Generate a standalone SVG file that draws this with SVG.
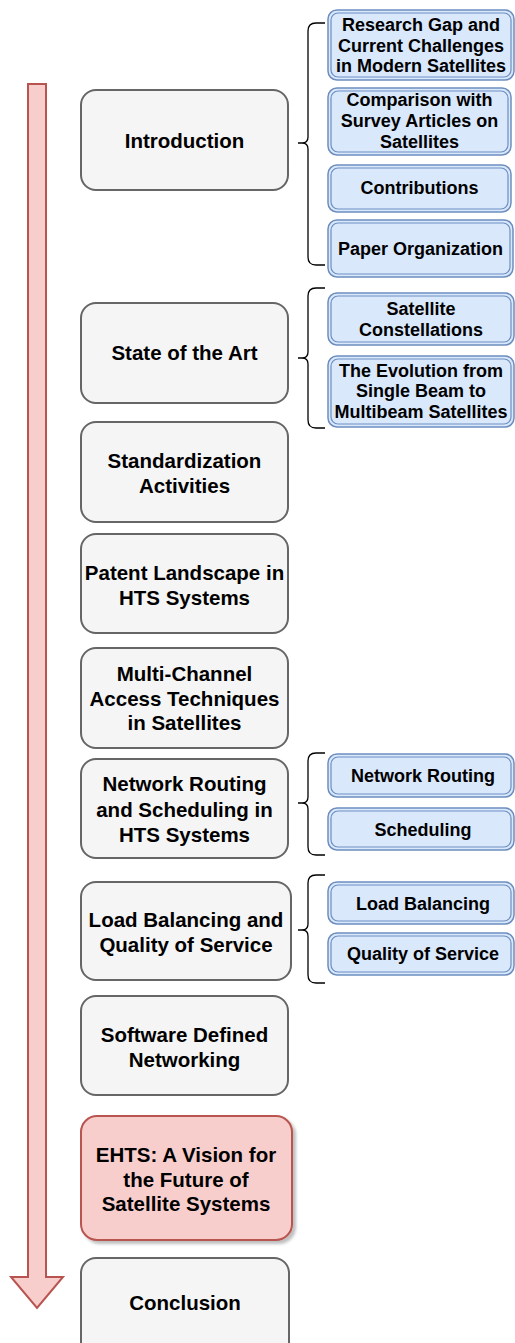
<svg xmlns="http://www.w3.org/2000/svg" width="515" height="1343" viewBox="0 0 515 1343">
<style>
.g{fill:#f5f5f5;stroke:#666666;stroke-width:2}
.r{fill:#f8cecc;stroke:#b85450;stroke-width:2}
.b{fill:#dae8fc;stroke:#6c8ebf;stroke-width:1.5}
.bi{fill:none;stroke:#6c8ebf;stroke-width:1.2}
.br{fill:none;stroke:#000;stroke-width:1.3}
text{font-family:"Liberation Sans",Arial,sans-serif;font-weight:bold;fill:#000;text-anchor:middle}
.L{font-size:20.5px}
.S{font-size:18px}
</style>
<defs>
<filter id="sh" x="-10%" y="-10%" width="130%" height="130%">
<feDropShadow dx="3" dy="3" stdDeviation="1.5" flood-color="#000" flood-opacity="0.25"/>
</filter>
</defs>
<rect width="515" height="1343" fill="#ffffff"/>
<g id="timeline-arrow">
<polygon class="r" points="28,84 46,84 46,1277 63,1277 37,1308 11,1277 28,1277"/>
</g>
<g id="connectors">
<path class="br" d="M325,23 H316 Q308,23 308,31 V137 Q308,143 302,143 H298 M302,143 Q308,143 308,149 V257 Q308,265 316,265 H325"/>
<path class="br" d="M325,288 H316 Q308,288 308,296 V352 Q308,358 302,358 H298 M302,358 Q308,358 308,364 V420 Q308,428 316,428 H325"/>
<path class="br" d="M325,753 H316 Q308,753 308,761 V797 Q308,803 302,803 H298 M302,803 Q308,803 308,809 V847 Q308,855 316,855 H325"/>
<path class="br" d="M325,875 H316 Q308,875 308,883 V924 Q308,930 302,930 H298 M302,930 Q308,930 308,936 V975 Q308,983 316,983 H325"/>
</g>
<g id="introduction">
<rect class="g" x="81" y="90" width="207" height="100" rx="15"/>
<text class="L" x="184.5" y="148">Introduction</text>
</g>
<g id="state-of-the-art">
<rect class="g" x="81" y="303" width="207" height="100" rx="15"/>
<text class="L" x="184.5" y="360">State of the Art</text>
</g>
<g id="standardization">
<rect class="g" x="81" y="422" width="207" height="100" rx="15"/>
<text class="L" x="184.5" y="468">Standardization</text>
<text class="L" x="184.5" y="493">Activities</text>
</g>
<g id="patent">
<rect class="g" x="81" y="534" width="207" height="99" rx="15"/>
<text class="L" x="184.5" y="580">Patent Landscape in</text>
<text class="L" x="184.5" y="605">HTS Systems</text>
</g>
<g id="multichannel">
<rect class="g" x="81" y="648" width="207" height="100" rx="15"/>
<text class="L" x="184.5" y="681">Multi-Channel</text>
<text class="L" x="184.5" y="706">Access Techniques</text>
<text class="L" x="184.5" y="730">in Satellites</text>
</g>
<g id="routing-scheduling">
<rect class="g" x="81" y="759" width="207" height="99" rx="15"/>
<text class="L" x="184.5" y="791">Network Routing</text>
<text class="L" x="184.5" y="817">and Scheduling in</text>
<text class="L" x="184.5" y="842">HTS Systems</text>
</g>
<g id="loadbalancing-qos">
<rect class="g" x="81" y="882" width="210" height="98" rx="15"/>
<text class="L" x="186" y="927">Load Balancing and</text>
<text class="L" x="186" y="952">Quality of Service</text>
</g>
<g id="sdn">
<rect class="g" x="81" y="996" width="207" height="99" rx="15"/>
<text class="L" x="184.5" y="1042">Software Defined</text>
<text class="L" x="184.5" y="1067">Networking</text>
</g>
<g id="ehts">
<rect class="r" x="81" y="1116" width="211" height="124" rx="16" filter="url(#sh)"/>
<text class="L" x="186" y="1162">EHTS: A Vision for</text>
<text class="L" x="186" y="1187">the Future of</text>
<text class="L" x="186" y="1211">Satellite Systems</text>
</g>
<g id="conclusion">
<rect class="g" x="81" y="1258" width="208" height="100" rx="15"/>
<text class="L" x="185" y="1310">Conclusion</text>
</g>
<g id="research-gap">
<rect class="b" x="328" y="10" width="186" height="70" rx="9"/>
<rect class="bi" x="331" y="13" width="180" height="64" rx="7"/>
<text class="S" x="421" y="31">Research Gap and</text>
<text class="S" x="421" y="52">Current Challenges</text>
<text class="S" x="421" y="72">in Modern Satellites</text>
</g>
<g id="comparison">
<rect class="b" x="328" y="88" width="183" height="67" rx="9"/>
<rect class="bi" x="331" y="91" width="177" height="61" rx="7"/>
<text class="S" x="419.5" y="106">Comparison with</text>
<text class="S" x="419.5" y="127">Survey Articles on</text>
<text class="S" x="419.5" y="148">Satellites</text>
</g>
<g id="contributions">
<rect class="b" x="328" y="165" width="183" height="47" rx="9"/>
<rect class="bi" x="331" y="168" width="177" height="41" rx="7"/>
<text class="S" x="419.5" y="194">Contributions</text>
</g>
<g id="paper-organization">
<rect class="b" x="328" y="220" width="185" height="57" rx="9"/>
<rect class="bi" x="331" y="223" width="179" height="51" rx="7"/>
<text class="S" x="420.5" y="255">Paper Organization</text>
</g>
<g id="constellations">
<rect class="b" x="328" y="293" width="186" height="52" rx="9"/>
<rect class="bi" x="331" y="296" width="180" height="46" rx="7"/>
<text class="S" x="421" y="315">Satellite</text>
<text class="S" x="421" y="336">Constellations</text>
</g>
<g id="evolution">
<rect class="b" x="328" y="356" width="186" height="71" rx="9"/>
<rect class="bi" x="331" y="359" width="180" height="65" rx="7"/>
<text class="S" x="421" y="377">The Evolution from</text>
<text class="S" x="421" y="397">Single Beam to</text>
<text class="S" x="421" y="418">Multibeam Satellites</text>
</g>
<g id="network-routing">
<rect class="b" x="328" y="754" width="186" height="43" rx="9"/>
<rect class="bi" x="331" y="757" width="180" height="37" rx="7"/>
<text class="S" x="423" y="782">Network Routing</text>
</g>
<g id="scheduling">
<rect class="b" x="328" y="808" width="186" height="42" rx="9"/>
<rect class="bi" x="331" y="811" width="180" height="36" rx="7"/>
<text class="S" x="423" y="836">Scheduling</text>
</g>
<g id="load-balancing">
<rect class="b" x="328" y="882" width="186" height="42" rx="9"/>
<rect class="bi" x="331" y="885" width="180" height="36" rx="7"/>
<text class="S" x="423" y="910">Load Balancing</text>
</g>
<g id="qos">
<rect class="b" x="328" y="933" width="186" height="42" rx="9"/>
<rect class="bi" x="331" y="936" width="180" height="36" rx="7"/>
<text class="S" x="423" y="960">Quality of Service</text>
</g>
</svg>
